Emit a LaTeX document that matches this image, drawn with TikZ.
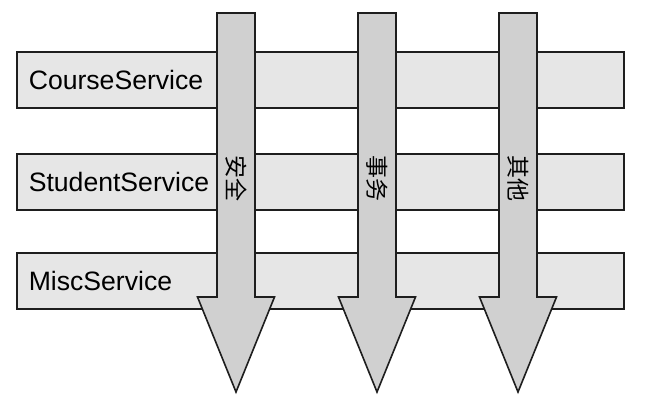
\documentclass[tikz,border=0pt]{standalone}
\usepackage{fontspec}
\setmainfont{Liberation Sans}
\newfontfamily\cjk{Noto Sans CJK SC}
\usepackage{tikz}
\definecolor{barfill}{HTML}{E6E6E6}
\definecolor{arrowfill}{HTML}{D0D0D0}
\definecolor{edgegray}{HTML}{1E1E1E}

\begin{document}
\begin{tikzpicture}[x=0.5pt, y=-0.5pt,
  svc/.style={
    rectangle, draw=edgegray, line width=0.8pt, fill=barfill,
    anchor=north west, align=left, inner xsep=6pt, inner ysep=0pt,
    minimum width=303.5pt, minimum height=28pt, text width=291.5pt,
    font=\fontsize{13.3}{16}\selectfont
  },
  aspect/.style={
    draw=edgegray, line width=0.8pt, fill=arrowfill, line join=miter
  },
  aspectlabel/.style={
    rotate=-90, inner sep=0pt, font=\cjk\fontsize{11.5}{12}\selectfont
  }
]
\useasboundingbox (0,0) rectangle (656,402);

\node[svc] (course) at (16,51) {CourseService};
\node[svc] (student) at (16,153) {StudentService};
\node[svc] (misc) at (16,252) {MiscService};

\foreach \x/\name/\txt in {236/security/安全, 377/transaction/事务, 518/others/其他} {
  \draw[aspect] (\x-19,13) -- (\x+19,13) -- (\x+19,297) -- (\x+38.5,297)
    -- (\x,392) -- (\x-38.5,297) -- (\x-19,297) -- cycle;
  \node[aspectlabel] (\name) at (\x,178) {\txt};
}
\end{tikzpicture}
\end{document}
